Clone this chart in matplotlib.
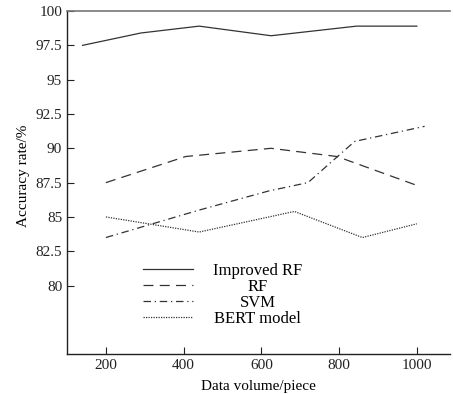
import matplotlib.pyplot as plt

plt.rcParams['font.family'] = ['Liberation Serif', 'DejaVu Serif']

# values
x_improved = [140, 290, 440, 625, 845, 1000]
y_improved = [97.5, 98.4, 98.9, 98.2, 98.9, 98.9]

x_rf = [200, 405, 625, 795, 1000]
y_rf = [87.5, 89.4, 90.0, 89.4, 87.3]

x_svm = [200, 440, 620, 720, 840, 1020]
y_svm = [83.5, 85.5, 86.9, 87.5, 90.5, 91.6]

x_bert = [200, 440, 685, 860, 1000]
y_bert = [85.0, 83.9, 85.4, 83.5, 84.5]

xticks = [200, 400, 600, 800, 1000]
yticks = [80, 82.5, 85, 87.5, 90, 92.5, 95, 97.5, 100]
ytick_labels = ['80', '82.5', '85', '87.5', '90', '92.5', '95', '97.5', '100']

fig = plt.figure(figsize=(4.53, 3.94), dpi=100)
ax = fig.add_axes([0.148, 0.101, 0.845, 0.871])

c = '#333333'
ax.plot(x_improved, y_improved, color=c, lw=0.9, ls='-', label='Improved RF')
ax.plot(x_rf, y_rf, color=c, lw=0.9, ls=(0, (8, 5)), label='RF')
ax.plot(x_svm, y_svm, color=c, lw=0.9, ls=(0, (6, 3, 1, 3)), label='SVM')
ax.plot(x_bert, y_bert, color=c, lw=0.9, ls=(0, (1, 1)), label='BERT model')

ax.set_xlim(100, 1085)
ax.set_ylim(75, 100)
ax.set_xticks(xticks)
ax.set_yticks(yticks)
ax.set_yticklabels(ytick_labels)
ax.tick_params(direction='in', length=5, width=0.8, labelsize=11, colors='#222222')

ax.spines['right'].set_visible(False)
ax.spines['top'].set_color('#777777')
ax.spines['top'].set_linewidth(1.2)
for s in ['left', 'bottom']:
    ax.spines[s].set_color('#222222')
    ax.spines[s].set_linewidth(1.0)

ax.set_xlabel('Data volume/piece', fontsize=11, labelpad=6)
ax.set_ylabel('Accuracy rate/%', fontsize=11)
ax.yaxis.set_label_coords(-0.097, 0.52)

leg = ax.legend(loc='upper left', bbox_to_anchor=(0.16, 0.31), frameon=False,
                fontsize=12, handlelength=3.0, handletextpad=1.2, labelspacing=0.0)

# centre the legend labels in their column, as in the original
fig.canvas.draw()
texts = leg.get_texts()
widths = [t.get_window_extent().width for t in texts]
wmax = max(widths)
for t, w in zip(texts, widths):
    t.set_position(((wmax - w) / 2, 0))

fig.savefig('out.png', dpi=100)
